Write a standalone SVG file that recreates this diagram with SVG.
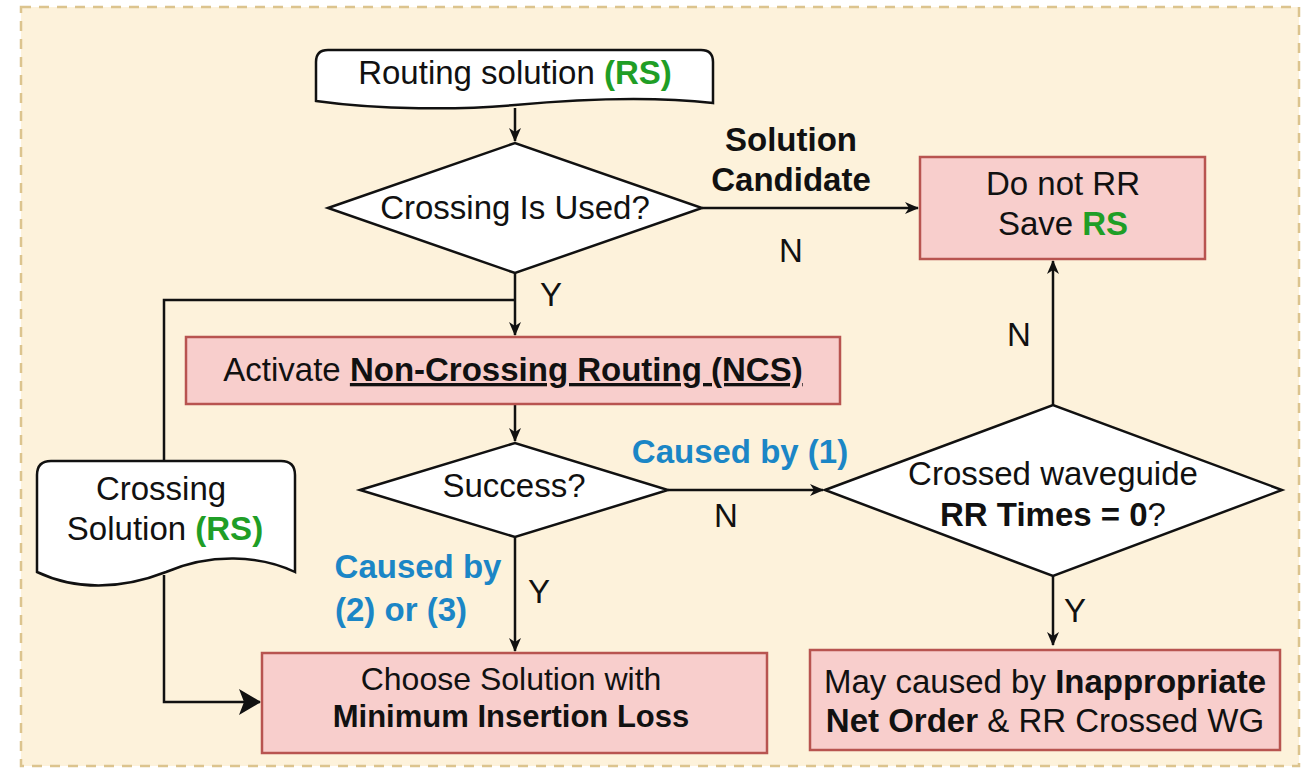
<svg xmlns="http://www.w3.org/2000/svg" width="1309" height="769" viewBox="0 0 1309 769">
  <style>
    text { font-family: "Liberation Sans", Arial, sans-serif; font-size: 33px; fill: #111; text-anchor: middle; }
    .b { font-weight: bold; }
    .g { fill: #1f9e26; font-weight: bold; }
    .blue { fill: #1b86c6; font-weight: bold; }
    .u { text-decoration: underline; }
    .shape { fill: #ffffff; stroke: #111; stroke-width: 2.5; }
    .proc { fill: #f8cecc; stroke: #b85450; stroke-width: 2.5; }
    .edge { fill: none; stroke: #111; stroke-width: 2.5; }
  </style>
  <defs>
    <marker id="arrow" markerUnits="userSpaceOnUse" markerWidth="14" markerHeight="14" viewBox="0 0 14 14" refX="13" refY="7" orient="auto">
      <path d="M0,1 L14,7 L0,13 L4,7 z" fill="#111"/>
    </marker>
    <marker id="arrowBig" markerUnits="userSpaceOnUse" markerWidth="22" markerHeight="26" viewBox="0 0 22 26" refX="21" refY="13" orient="auto">
      <path d="M0,0 L22,13 L0,26 L5,13 z" fill="#111"/>
    </marker>
  </defs>

  <!-- container -->
  <rect x="21" y="7" width="1278" height="759" fill="#fdf2db" stroke="#dcc48e" stroke-width="2.5" stroke-dasharray="10 8"/>

  <!-- connectors -->
  <g id="connectors">
    <path class="edge" d="M515,108 L515,141" marker-end="url(#arrow)"/>
    <path class="edge" d="M702,208 L918,208" marker-end="url(#arrow)"/>
    <path class="edge" d="M515,273 L515,335" marker-end="url(#arrow)"/>
    <path class="edge" d="M515,300 L164,300 L164,461"/>
    <path class="edge" d="M515,404 L515,441" marker-end="url(#arrow)"/>
    <path class="edge" d="M668,490 L823,490" marker-end="url(#arrow)"/>
    <path class="edge" d="M1053,405 L1053,261" marker-end="url(#arrow)"/>
    <path class="edge" d="M1053,576 L1053,645" marker-end="url(#arrow)"/>
    <path class="edge" d="M515,537 L515,651" marker-end="url(#arrow)"/>
    <path class="edge" d="M164,575 L164,702 L260,702" marker-end="url(#arrowBig)"/>
  </g>

  <!-- edge labels -->
  <g id="edge-labels">
    <text class="b" x="791" y="151">Solution</text>
    <text class="b" x="791" y="191">Candidate</text>
    <text x="791" y="262">N</text>
    <text x="551" y="306">Y</text>
    <text x="1019" y="346">N</text>
    <text class="blue" x="740" y="463">Caused by (1)</text>
    <text x="726" y="527">N</text>
    <text class="blue" x="418" y="578">Caused by</text>
    <text class="blue" x="401" y="621">(2) or (3)</text>
    <text x="539" y="603">Y</text>
    <text x="1075" y="622">Y</text>
  </g>

  <!-- Routing solution (input) -->
  <g id="routing-solution">
    <path class="shape" d="M316,101 L316,62 Q316,50 328,50 L701,50 Q713,50 713,62 L713,103 C650,96 580,99 515,105 C460,110 380,110 316,101 Z"/>
    <text x="515" y="84">Routing solution <tspan class="g">(RS)</tspan></text>
  </g>

  <!-- Crossing Is Used? -->
  <g id="crossing-used">
    <polygon class="shape" points="328,208 515,143 702,208 515,273"/>
    <text x="515" y="219">Crossing Is Used?</text>
  </g>

  <!-- Do not RR -->
  <g id="do-not-rr">
    <rect class="proc" x="920" y="157" width="285" height="102"/>
    <text x="1063" y="195">Do not RR</text>
    <text x="1063" y="235">Save <tspan class="g">RS</tspan></text>
  </g>

  <!-- Activate NCS -->
  <g id="activate-ncs">
    <rect class="proc" x="186" y="337" width="654" height="67"/>
    <text x="513" y="381">Activate <tspan class="b u">Non-Crossing Routing (NCS)</tspan></text>
  </g>

  <!-- Success? -->
  <g id="success">
    <polygon class="shape" points="360,490 515,443 668,490 515,537"/>
    <text x="514" y="497">Success?</text>
  </g>

  <!-- Crossed waveguide RR times -->
  <g id="crossed-waveguide">
    <polygon class="shape" points="825,490 1053,405 1282,490 1053,576"/>
    <text x="1053" y="485">Crossed waveguide</text>
    <text x="1053" y="526"><tspan class="b">RR Times = 0</tspan>?</text>
  </g>

  <!-- May caused by -->
  <g id="net-order">
    <rect class="proc" x="810" y="650" width="470" height="100"/>
    <text x="1045" y="693">May caused by <tspan class="b">Inappropriate</tspan></text>
    <text x="1045" y="732"><tspan class="b">Net Order</tspan> &amp; RR Crossed WG</text>
  </g>

  <!-- Crossing Solution (document) -->
  <g id="crossing-solution">
    <path class="shape" d="M37,572 L37,475 Q37,461 51,461 L281,461 Q295,461 295,475 L295,572 C260,555 210,553 166,572 C120,590 75,590 37,572 Z"/>
    <text x="161" y="500">Crossing</text>
    <text x="165" y="540">Solution <tspan class="g">(RS)</tspan></text>
  </g>

  <!-- Choose solution -->
  <g id="choose-solution">
    <rect class="proc" x="262" y="653" width="505" height="100"/>
    <text x="511" y="690" style="font-size:32px">Choose Solution with</text>
    <text class="b" x="511" y="727" style="font-size:31px">Minimum Insertion Loss</text>
  </g>
</svg>
